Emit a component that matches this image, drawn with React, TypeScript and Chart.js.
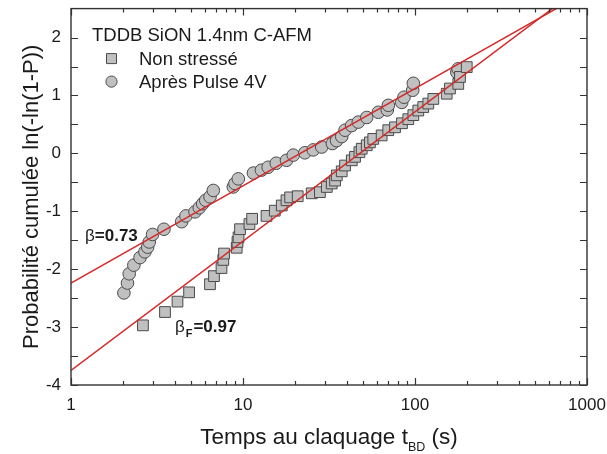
import React, { useEffect, useRef } from "react";
import { Chart, registerables } from "chart.js";

Chart.register(...registerables);

const FONT = '"Liberation Sans", Arial, Helvetica, sans-serif';

// Non stressé (squares)
const nonStresseX = [2.62, 3.52, 4.16, 4.86, 6.43, 6.78, 7.5, 7.68, 7.76, 9.19, 9.29, 9.42, 9.61, 10.9, 11.3, 13.7, 15.3, 16.8, 17.9, 18.8, 20.8, 25.1, 28.0, 30.7, 32.8, 34.3, 35.1, 37.5, 39.2, 42.9, 44.8, 47.5, 49.0, 52.4, 54.7, 57.2, 64.0, 69.9, 76.5, 84.0, 91.4, 97.8, 104.5, 111.7, 119.5, 127.8, 152.9, 159.7, 178.5, 182.6, 199.9];
const nonStresseY = [-2.97, -2.74, -2.56, -2.4, -2.26, -2.12, -1.98, -1.84, -1.73, -1.63, -1.53, -1.45, -1.31, -1.22, -1.13, -1.08, -0.99, -0.9, -0.81, -0.76, -0.74, -0.69, -0.67, -0.58, -0.52, -0.47, -0.38, -0.31, -0.21, -0.12, -0.06, 0.02, 0.08, 0.14, 0.19, 0.25, 0.31, 0.4, 0.45, 0.52, 0.59, 0.66, 0.74, 0.8, 0.86, 0.94, 1.03, 1.12, 1.2, 1.32, 1.49];

// Après Pulse 4V (circles)
const pulseX = [2.03, 2.13, 2.18, 2.32, 2.52, 2.69, 2.79, 2.85, 2.98, 3.47, 4.4, 4.66, 5.26, 5.57, 5.83, 6.07, 6.43, 6.72, 8.78, 8.98, 9.39, 11.5, 12.8, 14.0, 15.6, 17.9, 19.6, 22.9, 25.6, 28.7, 33.1, 35.0, 37.5, 39.2, 42.8, 46.8, 52.4, 61.2, 69.0, 70.0, 83.7, 86.3, 97.0, 97.8, 175, 178];
const pulseY = [-2.41, -2.24, -2.08, -1.93, -1.8, -1.7, -1.62, -1.53, -1.4, -1.31, -1.18, -1.08, -1.01, -0.94, -0.87, -0.81, -0.75, -0.64, -0.58, -0.52, -0.44, -0.34, -0.29, -0.24, -0.17, -0.12, -0.03, 0.01, 0.06, 0.11, 0.17, 0.22, 0.29, 0.4, 0.48, 0.54, 0.62, 0.71, 0.75, 0.83, 0.88, 0.97, 1.09, 1.21, 1.4, 1.46];

// Weibull fit lines (end points)
const fitPulseX = [1, 1000];
const fitPulseY = [-2.24, 2.8];
const fitNonStresseX = [1, 1000];
const fitNonStresseY = [-3.75, 2.95];

const xTickValues = [1, 10, 100, 1000];
const yTickValues = [-4, -3, -2, -1, 0, 1, 2];
const X_MIN = 1;
const X_MAX = 1000;
const Y_MIN = -4;
const Y_MAX = 2.5;

const seriesNames = ["Non stressé", "Après Pulse 4V"];
const legendTitle = "TDDB SiON 1.4nm C-AFM";
const yTitle = "Probabilité cumulée ln(-ln(1-P))";
const betaPulseLabel = "=0.73";
const betaNonLabel = "=0.97";
// annotation anchors in data coordinates (x, y of text baseline start)
const betaPulseAt = [1.206, -1.517];
const betaNonAt = [4.02, -3.086];

const MARKER_FILL = "#c0c0c0";
const MARKER_EDGE = "#4a4a4a";
const FIT_COLOR = "#d42a2a";
const AXIS_COLOR = "#333333";
const TEXT_COLOR = "#1a1a1a";

const toPoints = (xs: number[], ys: number[]) => xs.map((x, i) => ({ x, y: ys[i] }));

const framePlugin = {
  id: "frameTicks",
  afterDatasetsDraw(chart: any) {
    const { ctx, chartArea, scales } = chart;
    const { left, right, top, bottom } = chartArea;
    const xs = scales.x;
    const ys = scales.y;
    ctx.save();
    ctx.strokeStyle = AXIS_COLOR;
    ctx.lineWidth = 1.4;
    ctx.strokeRect(left, top, right - left, bottom - top);
    ctx.lineWidth = 1.2;
    ctx.beginPath();
    for (let d = 1; d <= 1000; d *= 10) {
      for (let m = 1; m <= 9; m++) {
        const v = d * m;
        if (v > X_MAX) break;
        const px = Math.round(xs.getPixelForValue(v)) + 0.5;
        const len = m === 1 ? 7 : 4;
        ctx.moveTo(px, bottom);
        ctx.lineTo(px, bottom - len);
        ctx.moveTo(px, top);
        ctx.lineTo(px, top + len);
      }
    }
    for (let v = Y_MIN; v <= 2.0001; v += 0.5) {
      const py = Math.round(ys.getPixelForValue(v)) + 0.5;
      const len = 7;
      ctx.moveTo(left, py);
      ctx.lineTo(left + len, py);
      ctx.moveTo(right, py);
      ctx.lineTo(right - len, py);
    }
    ctx.stroke();
    ctx.restore();
  },
};

const textPlugin = {
  id: "texts",
  afterDraw(chart: any) {
    const { ctx, chartArea, scales } = chart;
    const xs = scales.x;
    const ys = scales.y;
    ctx.save();
    ctx.fillStyle = TEXT_COLOR;
    ctx.textBaseline = "alphabetic";
    ctx.textAlign = "left";

    // Legend
    const lx = chartArea.left + 21;
    ctx.font = `18.5px ${FONT}`;
    ctx.fillText(legendTitle, lx, chartArea.top + 32);
    const rows = [
      { name: seriesNames[0], style: "rect", dy: 56 },
      { name: seriesNames[1], style: "circle", dy: 79 },
    ];
    rows.forEach((r) => {
      const cy = chartArea.top + r.dy - 6;
      const cx = chartArea.left + 40.5;
      ctx.fillStyle = MARKER_FILL;
      ctx.strokeStyle = MARKER_EDGE;
      ctx.lineWidth = 1;
      ctx.beginPath();
      if (r.style === "rect") {
        ctx.rect(cx - 5, cy - 5, 10, 10);
      } else {
        ctx.arc(cx, cy, 5.6, 0, Math.PI * 2);
      }
      ctx.fill();
      ctx.stroke();
      ctx.fillStyle = TEXT_COLOR;
      ctx.font = `18.5px ${FONT}`;
      ctx.fillText(r.name, chartArea.left + 68, chartArea.top + r.dy);
    });

    // Beta annotations
    const drawBeta = (at: number[], label: string, sub: string | null) => {
      let x = xs.getPixelForValue(at[0]);
      const y = ys.getPixelForValue(at[1]);
      ctx.font = `17px ${FONT}`;
      ctx.fillText("β", x, y);
      x += ctx.measureText("β").width;
      if (sub) {
        ctx.font = `bold 11px ${FONT}`;
        ctx.fillText(sub, x + 1, y + 5);
        x += ctx.measureText(sub).width + 2;
      }
      ctx.font = `bold 17px ${FONT}`;
      ctx.fillText(label, x, y);
    };
    drawBeta(betaPulseAt, betaPulseLabel, null);
    drawBeta(betaNonAt, betaNonLabel, "F");

    // X axis title with subscript
    const main = "Temps au claquage t";
    const sub = "BD";
    const tail = " (s)";
    const big = `22.5px ${FONT}`;
    const small = `12.5px ${FONT}`;
    ctx.font = big;
    const w1 = ctx.measureText(main).width;
    const w3 = ctx.measureText(tail).width;
    ctx.font = small;
    const w2 = ctx.measureText(sub).width;
    const total = w1 + w2 + w3;
    const cx = (chartArea.left + chartArea.right) / 2;
    let sx = cx - total / 2;
    const by = chartArea.bottom + 59;
    ctx.font = big;
    ctx.fillText(main, sx, by);
    sx += w1;
    ctx.font = small;
    ctx.fillText(sub, sx, by + 7);
    sx += w2;
    ctx.font = big;
    ctx.fillText(tail, sx, by);
    ctx.restore();
  },
};

export default function App() {
  const canvasRef = useRef<HTMLCanvasElement | null>(null);

  useEffect(() => {
    const canvas = canvasRef.current;
    if (!canvas) return;
    const chart = new Chart(canvas, {
      type: "scatter",
      data: {
        datasets: [
          {
            label: "fit pulse",
            data: toPoints(fitPulseX, fitPulseY),
            showLine: true,
            borderColor: FIT_COLOR,
            borderWidth: 1.5,
            pointRadius: 0,
            order: 0,
          },
          {
            label: "fit non",
            data: toPoints(fitNonStresseX, fitNonStresseY),
            showLine: true,
            borderColor: FIT_COLOR,
            borderWidth: 1.5,
            pointRadius: 0,
            order: 0,
          },
          {
            label: seriesNames[0],
            data: toPoints(nonStresseX, nonStresseY),
            pointStyle: "rect",
            pointRadius: 7.6,
            backgroundColor: MARKER_FILL,
            borderColor: MARKER_EDGE,
            borderWidth: 1,
            order: 1,
          },
          {
            label: seriesNames[1],
            data: toPoints(pulseX, pulseY),
            pointStyle: "circle",
            pointRadius: 6.3,
            backgroundColor: MARKER_FILL,
            borderColor: MARKER_EDGE,
            borderWidth: 1,
            order: 1,
          },
        ],
      },
      options: {
        responsive: false,
        animation: false,
        events: [],
        layout: { padding: { top: 8, right: 20, left: 0, bottom: 0 } },
        plugins: {
          legend: { display: false },
          tooltip: { enabled: false },
        },
        scales: {
          x: {
            type: "logarithmic",
            position: "bottom",
            min: X_MIN,
            max: X_MAX,
            grid: { display: false, drawTicks: false },
            border: { display: false },
            afterFit: (s: any) => {
              s.height = 69;
              s.paddingLeft = 0;
              s.paddingRight = 0;
              s.paddingTop = 0;
              s.paddingBottom = 0;
            },
            afterBuildTicks: (s: any) => {
              s.ticks = xTickValues.map((v) => ({ value: v }));
            },
            ticks: {
              autoSkip: false,
              maxRotation: 0,
              padding: 10,
              color: TEXT_COLOR,
              font: { family: FONT, size: 17 },
              callback: (v: any) => String(v),
            },
          },
          y: {
            type: "linear",
            position: "left",
            min: Y_MIN,
            max: Y_MAX,
            grid: { display: false, drawTicks: false },
            border: { display: false },
            afterFit: (s: any) => {
              s.width = 71;
              s.paddingLeft = 0;
              s.paddingRight = 0;
              s.paddingTop = 0;
              s.paddingBottom = 0;
            },
            afterBuildTicks: (s: any) => {
              s.ticks = yTickValues.map((v) => ({ value: v }));
            },
            ticks: {
              padding: 10,
              color: TEXT_COLOR,
              font: { family: FONT, size: 17 },
              callback: (v: any) => String(v),
            },
            title: {
              display: true,
              text: yTitle,
              color: TEXT_COLOR,
              font: { family: FONT, size: 22 },
              padding: { top: 19, bottom: 0 },
            },
          },
        },
      },
      plugins: [framePlugin, textPlugin],
    } as any);
    return () => chart.destroy();
  }, []);

  return (
    <div style={{ position: "absolute", left: 0, top: 0, width: 607, height: 454, background: "#fff" }}>
      <canvas ref={canvasRef} width={607} height={454} style={{ width: 607, height: 454, display: "block" }} />
    </div>
  );
}
